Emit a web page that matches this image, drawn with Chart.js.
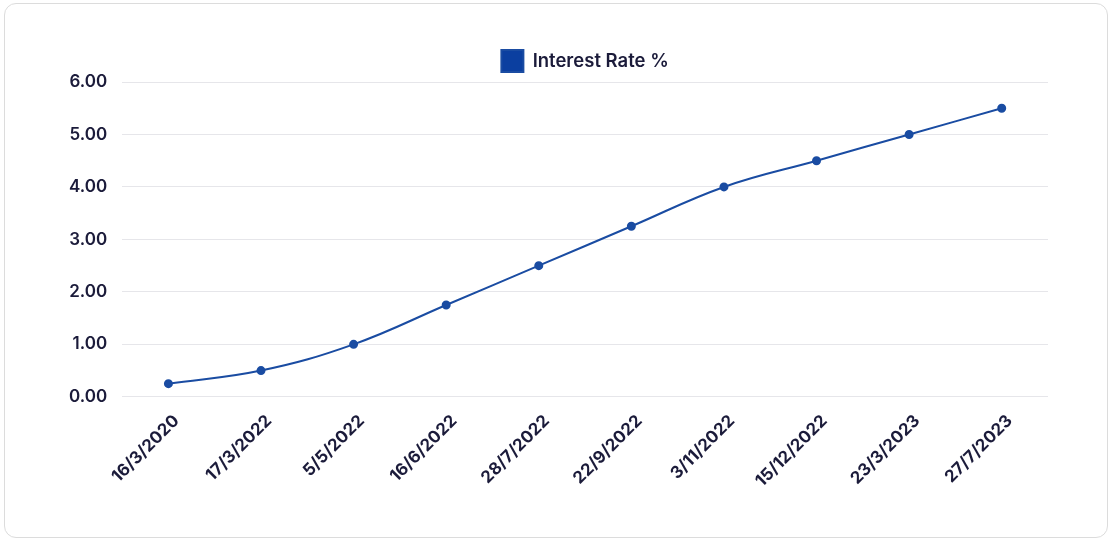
<!DOCTYPE html>
<html>
<head>
<meta charset="utf-8">
<script src="https://cdn.jsdelivr.net/npm/chart.js@4"></script>
<style>
html,body{margin:0;padding:0;background:#fff;}
#card{position:absolute;left:4px;top:3px;width:1102px;height:533px;border:1px solid #dcdcdc;border-radius:12px;box-sizing:content-box;}
#wrap{position:absolute;left:0;top:0;width:1112px;height:542px;}
</style>
</head>
<body>
<div id="card"></div>
<div id="wrap"><canvas id="c" width="1112" height="542"></canvas></div>
<script>
const categories = ["16/3/2020","17/3/2022","5/5/2022","16/6/2022","28/7/2022","22/9/2022","3/11/2022","15/12/2022","23/3/2023","27/7/2023"];
const interestRate = [0.25,0.5,1.0,1.75,2.5,3.25,4.0,4.5,5.0,5.5];
const seriesLabel = "Interest Rate %";
const yTicks = [0,1,2,3,4,5,6];

const textColor = "#1b1b3a";
const fontFam = "Inter, 'Noto Sans', sans-serif";

new Chart(document.getElementById('c'), {
  type: 'line',
  data: {
    labels: categories,
    datasets: [{
      label: seriesLabel,
      data: interestRate,
      borderColor: '#1a4ca2',
      backgroundColor: '#0b3fa0',
      pointBackgroundColor: '#1a4ca2',
      pointBorderColor: '#1a4ca2',
      borderWidth: 2,
      pointRadius: 3.5,
      tension: 0.4
    }]
  },
  options: {
    responsive: false,
    animation: false,
    layout: {padding: {top: 40, left: 54, right: 64, bottom: 37}},
    plugins: {
      legend: {
        fullSize: false,
        labels: {
          boxWidth: 22, boxHeight: 22, color: textColor,
          font: {family: fontFam, size: 18.5, weight: '600'},
          padding: 10
        }
      },
      tooltip: {enabled: false}
    },
    scales: {
      x: {
        offset: true,
        grid: {display: false, drawTicks: false},
        border: {display: false},
        ticks: {
          color: textColor, maxRotation: 45, minRotation: 45,
          font: {family: fontFam, size: 17, weight: '700'},
          padding: 14, labelOffset: 8
        }
      },
      y: {
        min: 0, max: 6,
        afterBuildTicks: (ax) => { ax.ticks = yTicks.map(v => ({value: v})); },
        grid: {color: '#e6e6ea', drawTicks: false, lineWidth: 1},
        border: {display: false},
        ticks: {
          color: textColor, padding: 15,
          font: {family: fontFam, size: 17, weight: '600'},
          callback: v => Number(v).toFixed(2)
        }
      }
    }
  }
});
</script>
</body>
</html>
